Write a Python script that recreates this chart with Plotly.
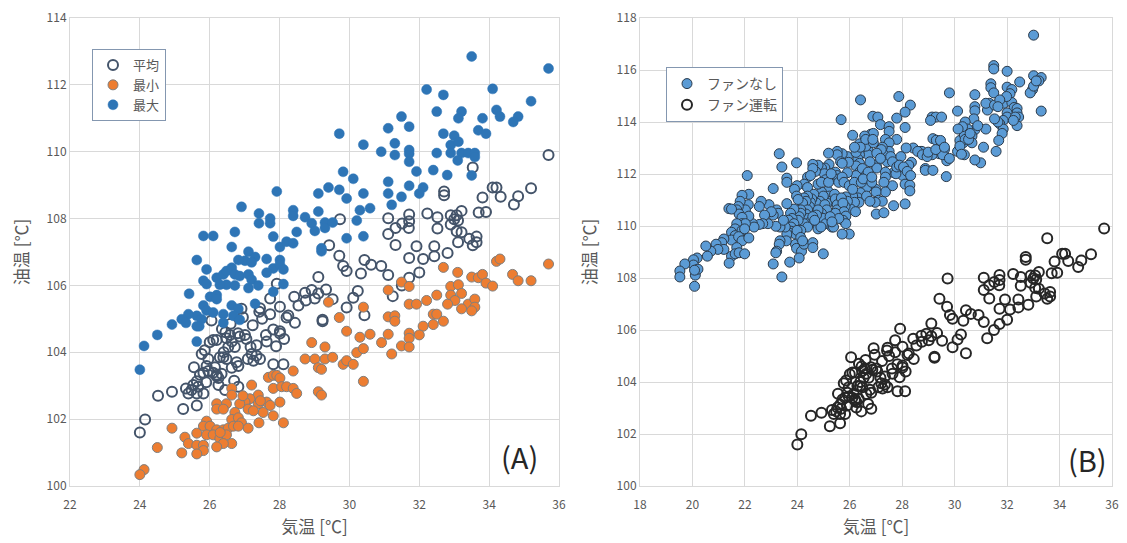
import plotly.graph_objects as go

# ---------------- (A) data ----------------
avg_x = [35.70, 33.53, 32.71, 32.71, 34.10, 34.21, 35.20, 33.81, 34.33, 34.83, 34.71, 33.70, 33.91,
         31.71, 32.23, 32.52, 32.90, 33.07, 33.21, 33.00, 33.11, 31.11, 31.71, 31.70, 32.52, 31.32, 31.51,
         32.90, 33.07, 33.21, 31.11, 31.32, 31.92, 32.43, 33.11, 33.43, 33.64, 33.53, 33.64, 32.81, 32.43,
         32.11, 31.71, 32.00, 31.71, 31.50, 31.24, 31.11, 30.91, 30.62, 30.43, 30.33, 30.43, 30.24, 30.11,
         29.92, 29.92, 29.82, 29.71, 29.73, 29.42, 29.11, 29.33, 29.11, 29.01, 28.92, 28.73, 29.52, 29.23,
         29.23, 28.42, 28.54, 28.44, 28.20, 27.92, 28.01, 27.73, 27.73, 27.44, 27.42, 27.23, 27.82, 28.01,
         28.13, 28.01, 27.61, 27.63, 27.90, 27.34, 27.17, 27.20, 27.34, 27.44, 27.25, 27.09, 26.91, 26.81,
         26.86, 27.01, 26.58, 26.48, 26.63, 26.72, 26.53, 26.10, 26.20, 26.39, 26.29, 26.48, 26.63, 26.77,
         26.82, 25.86, 25.77, 25.96, 25.91, 25.72, 25.82, 25.96, 26.10, 26.20, 26.34, 26.25, 25.63, 25.53,
         25.48, 25.67, 25.82, 25.63, 25.32, 25.39, 25.63, 26.25, 26.44, 26.20, 26.82, 27.82, 28.11, 25.24,
         24.92, 24.52, 24.15, 24.00, 26.05, 26.35, 26.60, 26.95, 27.05, 26.40, 26.00, 25.90, 26.70, 27.50,
         28.25, 28.75, 26.15, 25.55, 26.45]
avg_y = [109.90, 109.53, 108.81, 108.70, 108.93, 108.93, 108.91, 108.63, 108.65, 108.67, 108.42, 108.18, 108.20,
         108.12, 108.15, 108.04, 108.10, 108.10, 108.23, 107.98, 107.94, 108.01, 107.92, 107.72, 107.70, 107.72, 107.85,
         107.82, 107.62, 107.59, 107.54, 107.21, 107.17, 107.17, 107.29, 107.40, 107.46, 107.20, 107.29, 106.97, 106.87,
         106.79, 106.82, 106.39, 106.23, 106.00, 105.68, 106.31, 106.58, 106.62, 106.76, 106.36, 105.11, 105.83, 105.63,
         105.34, 106.43, 106.58, 106.89, 107.98, 107.20, 106.25, 105.88, 105.76, 105.61, 105.86, 105.78, 105.59, 104.97,
         104.93, 105.66, 105.40, 104.88, 105.04, 106.05, 105.36, 105.61, 105.14, 105.32, 105.21, 104.81, 104.68, 104.63,
         104.40, 104.56, 104.52, 104.32, 104.18, 104.21, 104.16, 103.95, 103.90, 103.80, 103.75, 103.80, 105.30, 104.57,
         104.47, 104.52, 104.52, 104.42, 104.32, 104.16, 104.16, 104.37, 104.37, 103.85, 103.85, 103.80, 103.54, 103.70,
         103.59, 104.06, 103.95, 103.80, 103.59, 103.33, 103.39, 103.44, 103.39, 103.33, 103.36, 103.23, 103.13, 103.02,
         102.87, 102.97, 102.77, 102.77, 102.92, 102.77, 102.41, 103.02, 102.87, 103.28, 102.97, 103.64, 103.64, 102.30,
         102.82, 102.70, 101.99, 101.60, 104.95, 104.70, 104.85, 105.05, 104.40, 104.00, 104.30, 103.10, 103.15, 105.00,
         105.10, 105.55, 103.55, 103.55, 104.60]

min_x = [35.70, 34.21, 34.31, 32.69, 33.10, 34.67, 34.83, 35.20, 33.50, 33.69, 33.81, 33.91, 34.10, 32.90, 33.12,
         33.21, 32.90, 33.02, 31.49, 31.71, 31.11, 32.50, 32.21, 31.71, 31.92, 32.81, 33.40, 33.59, 33.59, 33.21,
         33.50, 29.40, 30.40, 31.11, 31.30, 31.30, 32.40, 32.50, 32.69, 32.40, 32.11, 29.71, 29.92, 30.30, 30.59,
         31.11, 31.71, 31.71, 32.00, 28.92, 29.30, 30.92, 31.49, 31.71, 30.21, 30.40, 31.21, 28.73, 29.01, 29.30,
         29.52, 29.11, 29.20, 29.82, 29.92, 30.11, 28.39, 30.40, 27.68, 27.82, 27.92, 28.01, 27.20, 27.82, 28.06,
         28.20, 28.39, 28.49, 29.11, 29.20, 26.63, 26.63, 27.39, 27.15, 27.39, 27.63, 27.73, 28.01, 27.53, 27.82,
         27.01, 26.86, 27.10, 27.25, 26.20, 26.20, 26.48, 26.39, 26.72, 26.63, 26.82, 26.91, 28.11, 27.41, 27.10,
         25.91, 25.82, 26.01, 26.20, 26.39, 26.53, 26.68, 26.82, 25.63, 25.91, 26.10, 26.29, 26.48, 26.63, 26.39,
         25.29, 25.39, 25.63, 25.82, 25.82, 25.63, 26.20, 24.92, 24.50, 25.20, 24.12, 24.00, 26.95, 27.45, 26.30]
min_y = [106.64, 106.72, 106.79, 106.54, 106.39, 106.33, 106.14, 106.14, 106.25, 106.23, 106.33, 106.07, 105.98, 105.97, 106.02,
         105.76, 105.71, 105.55, 106.10, 105.97, 105.86, 105.71, 105.55, 105.44, 105.44, 105.44, 105.44, 105.59, 105.35, 105.30,
         105.24, 105.50, 105.35, 105.06, 105.09, 104.93, 105.14, 105.14, 104.93, 104.83, 104.78, 105.04, 104.63, 104.45, 104.54,
         104.54, 104.57, 104.42, 104.52, 104.29, 104.16, 104.29, 104.19, 104.16, 103.99, 104.11, 103.95, 103.80, 103.80, 103.80,
         103.85, 103.54, 103.49, 103.64, 103.75, 103.64, 103.44, 103.13, 103.25, 103.31, 103.31, 103.23, 103.02, 102.92, 102.97,
         102.97, 102.92, 102.77, 102.82, 102.72, 102.92, 102.72, 102.72, 102.61, 102.46, 102.51, 102.41, 102.51, 102.20, 102.10,
         102.51, 102.46, 102.30, 102.25, 102.46, 102.30, 102.46, 102.30, 102.20, 101.99, 102.04, 101.89, 101.89, 101.89, 101.73,
         101.94, 101.79, 101.79, 101.68, 101.68, 101.73, 101.79, 101.79, 101.58, 101.53, 101.53, 101.42, 101.53, 101.27, 101.27,
         101.46, 101.27, 101.22, 101.22, 101.06, 100.96, 101.17, 101.73, 101.15, 100.99, 100.49, 100.34, 102.70, 102.55, 101.60]

max_x = [33.50, 35.70, 32.21, 32.69, 34.10, 32.50, 33.21, 33.12, 34.21, 34.31, 33.81, 35.20, 34.83, 34.69, 31.49,
         31.11, 31.71, 32.69, 33.00, 32.90, 33.12, 33.69, 33.91, 29.71, 30.40, 31.30, 30.91, 31.30, 31.71, 31.71,
         31.71, 32.50, 32.90, 33.21, 33.40, 33.59, 33.59, 33.10, 31.92, 32.40, 32.80, 33.50, 29.82, 30.11, 31.11,
         32.11, 32.00, 31.71, 31.49, 31.11, 31.21, 30.40, 29.92, 29.71, 29.40, 29.11, 27.92, 26.91, 27.41, 27.41,
         27.73, 27.73, 28.39, 28.39, 28.73, 28.92, 29.11, 29.30, 29.30, 29.52, 29.01, 30.30, 30.59, 30.21, 29.92,
         30.40, 29.20, 29.20, 27.82, 28.01, 28.20, 28.39, 28.49, 26.63, 26.72, 25.82, 26.10, 27.11, 27.30, 27.01,
         26.82, 27.20, 27.63, 28.01, 27.82, 28.01, 28.11, 25.63, 25.91, 26.20, 26.39, 26.48, 26.63, 26.72, 26.86,
         26.48, 26.29, 26.72, 27.11, 27.20, 27.39, 27.11, 27.63, 27.82, 28.11, 25.82, 25.91, 26.01, 26.20, 26.20,
         25.41, 25.82, 25.91, 25.63, 25.77, 25.70, 25.63, 26.10, 26.39, 26.39, 26.63, 26.82, 26.68, 26.86, 25.39,
         25.20, 25.32, 27.30, 24.92, 24.50, 25.63, 24.12, 24.00]
max_y = [112.85, 112.49, 111.86, 111.70, 111.88, 111.20, 111.20, 111.00, 111.25, 111.05, 111.00, 111.51, 111.05, 110.89, 111.05,
         110.70, 110.75, 110.54, 110.48, 110.20, 110.30, 110.64, 110.54, 110.54, 110.21, 110.25, 110.00, 109.90, 110.05, 109.94,
         109.70, 109.96, 109.96, 109.96, 109.96, 109.96, 109.84, 109.74, 109.41, 109.45, 109.30, 109.29, 109.40, 109.19, 109.10,
         108.93, 108.75, 108.98, 108.65, 108.75, 108.41, 108.75, 108.60, 108.86, 108.93, 108.75, 108.81, 108.35, 108.15, 107.86,
         108.00, 107.86, 108.25, 108.08, 108.04, 107.86, 108.21, 107.88, 107.72, 107.88, 107.63, 108.25, 108.31, 107.94, 107.41,
         107.47, 107.11, 107.02, 107.46, 107.15, 107.31, 107.26, 107.60, 107.15, 107.60, 107.48, 107.48, 107.01, 106.85, 106.74,
         106.76, 106.69, 106.79, 106.76, 106.51, 106.62, 106.48, 106.76, 106.48, 106.23, 106.33, 106.43, 106.53, 106.33, 106.28,
         106.02, 106.02, 106.00, 106.33, 106.17, 106.00, 105.92, 106.38, 105.81, 106.04, 106.14, 106.04, 105.66, 105.71, 105.59,
         105.75, 105.40, 105.25, 105.09, 104.99, 104.78, 104.78, 105.19, 105.14, 104.88, 105.40, 105.30, 105.09, 104.97, 105.14,
         104.99, 104.88, 105.45, 104.83, 104.52, 104.32, 104.19, 103.48]

# ---------------- (B) data ----------------
fan_off_x = [33.01, 31.49, 31.49, 32.00, 33.01, 33.30, 33.21, 32.97, 32.88, 33.30, 32.48, 31.38, 31.38, 31.49, 32.00,
             32.18, 32.11, 29.80, 30.77, 31.32, 31.87, 32.18, 32.27, 32.38, 32.38, 32.44, 32.38, 32.00, 32.00, 31.85,
             31.25, 30.77, 30.77, 30.73, 30.11, 31.72, 31.85, 31.81, 31.68, 31.58, 31.19, 31.10, 30.99, 30.77, 30.66,
             30.77, 30.66, 30.33, 30.20, 30.11, 30.40, 30.50, 30.37, 30.40, 30.30, 30.13, 30.37, 29.14, 29.28, 29.50,
             29.08, 28.31, 28.11, 27.87, 27.79, 28.11, 26.41, 25.67, 26.88, 27.07, 27.17, 26.80, 26.90, 27.50, 27.50,
             27.36, 27.79, 29.17, 29.30, 29.41, 29.41, 29.61, 29.70, 29.68, 28.88, 28.88, 29.17, 29.14, 29.54, 28.68,
             28.75, 28.42, 28.15, 28.35, 28.25, 27.95, 27.95, 28.02, 28.11, 28.29, 28.29, 28.11, 27.67, 27.76, 27.63,
             27.50, 27.50, 27.30, 27.43, 27.24, 27.20, 27.01, 27.03, 27.36, 27.36, 27.30, 27.36, 27.00, 27.00, 27.10,
             27.24, 26.97, 27.01, 27.30, 27.67, 26.70, 26.70, 26.77, 26.51, 26.37, 26.61, 26.57, 26.61, 26.11, 26.37,
             26.31, 26.37, 26.24, 26.37, 26.24, 26.48, 26.64, 26.70, 26.57, 26.64, 26.40, 26.31, 26.35, 26.11, 26.18,
             26.04, 26.22, 25.98, 25.71, 25.85, 25.91, 25.82, 25.91, 25.91, 25.95, 25.71, 25.52, 25.52, 25.65, 25.71,
             25.45, 25.52, 25.38, 25.58, 25.58, 25.19, 25.21, 25.05, 24.92, 25.03, 25.08, 24.79, 24.69, 24.59, 24.59,
             24.39, 24.50, 24.26, 24.39, 23.97, 23.60, 23.60, 23.99, 23.89, 23.31, 23.41, 23.08, 22.09, 25.16, 25.22,
             25.28, 25.13, 25.42, 25.45, 25.52, 25.52, 25.68, 25.74, 25.78, 25.85, 25.74, 25.85, 24.92, 24.99, 24.86,
             24.73, 25.05, 25.12, 24.92, 24.86, 24.99, 25.08, 25.32, 25.38, 24.79, 24.90, 24.63, 24.55, 24.50, 24.46,
             24.39, 24.26, 24.33, 24.20, 24.39, 24.33, 24.39, 24.50, 24.26, 24.39, 24.13, 24.13, 24.07, 24.03, 23.97,
             24.03, 23.87, 23.74, 23.80, 23.67, 23.87, 23.76, 23.60, 23.76, 23.71, 23.93, 24.13, 23.93, 23.97, 24.16,
             24.26, 23.99, 24.13, 24.20, 24.59, 24.59, 24.99, 24.07, 23.60, 23.58, 23.54, 23.34, 23.31, 23.21, 23.18,
             23.08, 23.71, 23.41, 23.21, 23.27, 23.34, 23.47, 23.08, 23.18, 22.92, 23.01, 22.88, 22.62, 22.55, 22.75,
             22.68, 22.55, 22.29, 22.35, 22.15, 22.13, 21.89, 21.82, 22.02, 22.15, 21.75, 21.69, 21.78, 21.89, 21.89,
             22.02, 21.39, 21.49, 21.69, 21.63, 21.89, 21.99, 21.49, 21.63, 21.49, 21.76, 21.89, 22.15, 21.20, 21.12,
             21.20, 21.49, 21.40, 21.69, 21.63, 21.78, 21.99, 20.90, 20.97, 20.70, 20.57, 20.51, 20.18, 20.04, 20.04,
             20.11, 20.11, 20.21, 20.08, 20.08, 19.71, 19.52, 19.52, 26.24, 26.40, 26.18, 26.90, 26.88, 27.03, 27.17,
             27.56, 27.63, 27.79, 27.89, 28.05, 28.19, 28.32, 28.59, 28.77, 28.95, 28.99, 29.28, 29.46, 29.61, 29.80,
             30.20, 30.26, 30.53, 30.59, 30.88, 31.19, 31.52, 31.65, 31.52, 31.98, 31.72, 31.65, 32.31, 32.24, 33.01,
             33.11, 25.71, 25.78, 25.98, 26.18, 26.11, 26.44, 26.51, 26.84, 26.84, 26.64, 26.77, 25.45, 25.58, 25.25,
             25.32, 24.79, 24.73, 24.59, 24.66, 24.79, 24.92, 25.19, 25.29]
fan_off_y = [117.34, 116.17, 116.04, 115.95, 115.78, 115.71, 115.58, 115.25, 115.12, 114.42, 115.54, 115.47, 115.32, 115.12, 115.34,
             115.25, 115.09, 115.12, 115.05, 114.72, 114.72, 114.75, 114.56, 114.52, 114.35, 114.19, 113.86, 114.35, 114.19, 114.06,
             114.46, 114.59, 114.43, 114.12, 114.42, 113.93, 113.73, 113.56, 113.29, 112.87, 113.73, 113.03, 112.43, 113.70, 113.46,
             112.54, 113.20, 113.20, 113.29, 112.87, 114.00, 113.73, 113.50, 113.33, 113.82, 113.73, 112.74, 114.19, 114.19, 114.19,
             114.06, 114.65, 114.38, 114.98, 114.15, 113.79, 114.85, 114.09, 114.22, 114.19, 113.90, 113.53, 113.56, 113.82, 113.64,
             113.33, 113.33, 113.36, 113.30, 113.00, 112.78, 112.94, 112.51, 111.90, 112.21, 112.14, 112.14, 112.74, 112.74, 112.87,
             112.87, 113.00, 113.00, 112.45, 112.34, 112.67, 112.27, 111.94, 111.61, 111.57, 111.35, 110.85, 112.05, 112.01, 111.55,
             113.20, 112.87, 112.74, 112.47, 113.03, 112.94, 112.34, 112.23, 112.07, 111.88, 111.68, 111.31, 111.41, 111.31, 110.99,
             110.95, 110.91, 110.46, 110.51, 110.78, 112.90, 112.74, 112.47, 113.20, 113.16, 113.07, 113.46, 113.33, 113.49, 112.74,
             112.58, 112.41, 112.31, 112.07, 111.94, 112.21, 111.97, 112.07, 111.41, 111.48, 111.28, 111.08, 110.91, 111.15, 110.91,
             110.65, 110.55, 109.69, 109.69, 111.12, 110.95, 110.75, 112.05, 112.67, 112.45, 112.78, 112.87, 112.74, 112.47, 112.41,
             112.07, 111.94, 111.84, 111.81, 111.68, 112.80, 112.37, 112.23, 112.23, 112.01, 111.78, 112.34, 112.10, 112.37, 112.21,
             111.88, 111.94, 111.61, 111.48, 112.43, 111.84, 111.68, 111.55, 111.41, 112.78, 112.27, 111.44, 111.94, 111.35, 111.15,
             110.95, 110.88, 111.22, 111.04, 110.82, 110.62, 111.08, 110.88, 110.55, 110.38, 110.22, 110.09, 111.31, 111.15, 110.95,
             110.88, 110.82, 110.62, 110.49, 110.36, 110.29, 110.09, 109.96, 109.96, 109.89, 109.96, 111.22, 111.04, 110.91, 110.75,
             111.15, 111.08, 110.95, 110.88, 110.62, 110.46, 110.29, 110.16, 110.09, 109.96, 110.62, 110.49, 110.36, 110.22, 111.15,
             111.02, 110.65, 110.49, 110.29, 110.22, 110.09, 109.96, 110.86, 109.80, 109.72, 109.69, 109.83, 109.30, 109.14, 109.03,
             109.30, 109.83, 109.56, 109.43, 109.36, 109.17, 108.93, 108.77, 109.69, 109.43, 109.96, 109.43, 109.30, 109.03, 108.97,
             108.54, 108.61, 108.04, 110.62, 110.49, 109.96, 110.22, 110.42, 109.99, 110.82, 110.55, 110.09, 110.95, 110.75, 110.42,
             110.09, 110.06, 110.09, 109.96, 111.22, 110.82, 111.18, 110.95, 110.62, 110.38, 110.75, 110.62, 110.46, 110.33, 110.09,
             110.09, 110.67, 110.65, 110.09, 109.89, 109.83, 109.89, 109.76, 109.63, 109.46, 109.59, 109.43, 109.54, 109.50, 109.36,
             109.10, 108.84, 108.57, 109.17, 108.93, 108.97, 108.93, 109.30, 109.10, 109.03, 108.84, 109.23, 108.77, 108.70, 108.50,
             108.30, 108.11, 108.34, 108.30, 107.68, 108.54, 108.27, 108.04, 112.83, 113.03, 113.03, 113.20, 113.33, 112.80, 112.60,
             112.67, 112.47, 112.27, 112.34, 112.27, 112.10, 111.94, 112.87, 112.74, 112.67, 112.84, 112.94, 113.29, 113.03, 112.60,
             113.07, 112.76, 113.33, 113.56, 113.86, 114.72, 114.65, 114.00, 114.12, 114.98, 114.85, 114.59, 114.19, 114.06, 115.38,
             115.58, 111.88, 111.68, 111.55, 111.68, 111.41, 111.68, 111.81, 111.68, 111.88, 111.15, 110.95, 110.49, 110.29, 110.36,
             110.16, 110.62, 110.42, 110.36, 110.22, 111.61, 111.68, 111.68, 112.01]

# fan operating = daily average series of (A)
fan_on_x = avg_x
fan_on_y = avg_y

labels_a = ["平均", "最小", "最大"]
labels_b = ["ファンなし", "ファン運転"]
x_title = "気温 [℃]"
y_title = "油温 [℃]"

FONT = "Noto Sans CJK JP, Noto Sans, sans-serif"
GRID = "#d9d9d9"
TXT = "#595959"

fig = go.Figure()

fig.add_trace(go.Scatter(x=avg_x, y=avg_y, mode="markers", name=labels_a[0],
                         marker=dict(symbol="circle-open", size=10, color="#44546A",
                                     line=dict(width=2, color="#44546A")),
                         xaxis="x", yaxis="y", legend="legend"))
fig.add_trace(go.Scatter(x=min_x, y=min_y, mode="markers", name=labels_a[1],
                         marker=dict(symbol="circle", size=10, color="#ED7D31",
                                     line=dict(width=1, color="#7F7F7F")),
                         xaxis="x", yaxis="y", legend="legend"))
fig.add_trace(go.Scatter(x=max_x, y=max_y, mode="markers", name=labels_a[2],
                         marker=dict(symbol="circle", size=10, color="#2E75B6",
                                     line=dict(width=0.5, color="#2E75B6")),
                         xaxis="x", yaxis="y", legend="legend"))

fig.add_trace(go.Scatter(x=fan_off_x, y=fan_off_y, mode="markers", name=labels_b[0],
                         marker=dict(symbol="circle", size=10, color="#5B9BD5",
                                     line=dict(width=1, color="#2B3A4A")),
                         xaxis="x2", yaxis="y2", legend="legend2"))
fig.add_trace(go.Scatter(x=fan_on_x, y=fan_on_y, mode="markers", name=labels_b[1],
                         marker=dict(symbol="circle-open", size=10, color="#262626",
                                     line=dict(width=2, color="#262626")),
                         xaxis="x2", yaxis="y2", legend="legend2"))

# page body has an 8px margin, so figure coords = screen coords - 8
W, H = 1119, 535
ML, MR, MT, MB = 62, 15, 10, 57
PW = W - ML - MR
PH = H - MT - MB

axis_common = dict(showgrid=True, gridcolor=GRID, gridwidth=1, zeroline=False,
                   showline=True, linecolor=GRID, linewidth=1, mirror=True, automargin=False,
                   ticklabeloverflow="allow",
                   ticks="", tickfont=dict(family=FONT, size=12, color=TXT))
title_font = dict(family=FONT, size=17, color=TXT)

fig.update_layout(
    width=W, height=H,
    paper_bgcolor="white", plot_bgcolor="white",
    margin=dict(l=ML, r=MR, t=MT, b=MB),
    xaxis=dict(domain=[0, (551 - ML) / PW], range=[22, 36], dtick=2, anchor="y",
               ticklabelstandoff=8,
               title=dict(text=x_title, font=title_font, standoff=9), **axis_common),
    yaxis=dict(domain=[0, 1], range=[100, 114], dtick=2, anchor="x",
               title=dict(text=y_title, font=title_font, standoff=22), **axis_common),
    xaxis2=dict(domain=[(632 - ML) / PW, 1], range=[18, 36], dtick=2, anchor="y2",
                ticklabelstandoff=8,
                title=dict(text=x_title, font=title_font, standoff=9), **axis_common),
    yaxis2=dict(domain=[0, 1], range=[100, 118], dtick=2, anchor="x2",
                title=dict(text=y_title, font=title_font, standoff=15), **axis_common),
    legend=dict(x=(84 - ML) / PW, y=(H - MB - 41) / PH, xanchor="left", yanchor="top",
                bgcolor="white", bordercolor="#8497B0", borderwidth=1,
                font=dict(family=FONT, size=13, color=TXT), itemwidth=30),
    legend2=dict(x=(658 - ML) / PW, y=(H - MB - 59) / PH, xanchor="left", yanchor="top",
                 bgcolor="white", bordercolor="#8497B0", borderwidth=1,
                 font=dict(family=FONT, size=14, color=TXT), itemwidth=30),
    annotations=[
        dict(text="(A)", xref="x", yref="y", x=35.45, y=100.2, xanchor="right", yanchor="bottom",
             showarrow=False, font=dict(family=FONT, size=29, color="#262626")),
        dict(text="(B)", xref="x2", yref="y2", x=35.9, y=100.15, xanchor="right", yanchor="bottom",
             showarrow=False, font=dict(family=FONT, size=29, color="#262626")),
    ],
)

fig.write_html("out.html")
